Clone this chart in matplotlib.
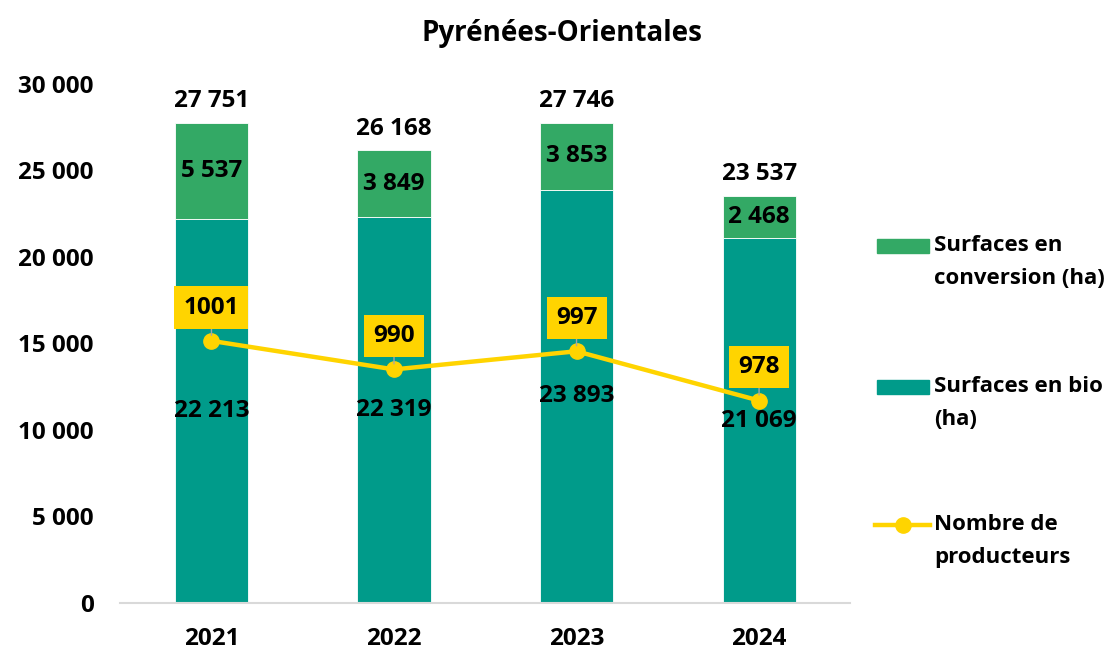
import matplotlib.pyplot as plt
from matplotlib.patches import Rectangle
from matplotlib.lines import Line2D

plt.rcParams['font.family'] = ['Open Sans', 'DejaVu Sans']
plt.rcParams['font.weight'] = 'bold'

annees = ["2021", "2022", "2023", "2024"]
bio = [22213, 22319, 23893, 21069]
conversion = [5537, 3849, 3853, 2468]
totaux = [27751, 26168, 27746, 23537]
producteurs = [1001, 990, 997, 978]

vert_conv = "#33A965"
vert_bio = "#009B8A"
jaune = "#FFD400"


def fmt(v):
    return f"{v:,}".replace(",", " ")


fig = plt.figure(figsize=(11.13, 6.53), dpi=100)
ax = fig.add_axes([0.108, 0.0766, 0.656, 0.7948])
x = range(len(annees))

b_bio = ax.bar(x, bio, width=0.4, color=vert_bio, edgecolor="white", linewidth=0.6)
b_conv = ax.bar(x, conversion, width=0.4, bottom=bio, color=vert_conv, edgecolor="white",
                linewidth=0.6)

fs = 17.5
for i in x:
    ax.text(i, bio[i] / 2, fmt(bio[i]), ha="center", va="center", fontsize=fs, fontweight="bold")
    ax.text(i, bio[i] + conversion[i] / 2, fmt(conversion[i]), ha="center", va="center",
            fontsize=fs, fontweight="bold")
    ax.text(i, totaux[i] + 550, fmt(totaux[i]), ha="center", va="bottom", fontsize=fs,
            fontweight="bold")

ax.set_xlim(-0.5, 3.5)
ax.set_ylim(0, 30000)
ax.set_yticks(range(0, 30001, 5000))
ax.set_yticklabels([fmt(v) for v in range(0, 30001, 5000)], fontsize=fs, fontweight="bold")
ax.set_xticks(list(x))
ax.set_xticklabels(annees, fontsize=fs, fontweight="bold")
ax.tick_params(length=0)
ax.tick_params(axis="x", pad=17)
ax.tick_params(axis="y", pad=19)
for s in ["top", "right", "left"]:
    ax.spines[s].set_visible(False)
ax.spines["bottom"].set_color("#D9D9D9")
ax.spines["bottom"].set_linewidth(1.5)

ax2 = ax.twinx()
ax2.set_ylim(900, 1100)
ax2.axis("off")
l_prod, = ax2.plot(x, producteurs, color=jaune, linewidth=3.2, marker="o", markersize=11)
for i in x:
    ax2.annotate(str(producteurs[i]), xy=(i, producteurs[i]), xytext=(0, 24),
                 textcoords="offset points", ha="center", va="center", fontsize=fs,
                 fontweight="bold",
                 bbox=dict(boxstyle="square,pad=0.38", fc=jaune, ec="none"),
                 arrowprops=dict(arrowstyle="-", color="#A6A6A6", lw=1, shrinkA=0, shrinkB=4))

fig.text(0.505, 0.949, "Pyrénées-Orientales", ha="center", va="center", fontsize=20,
         fontweight="bold")

# légende à droite : symbole aligné sur la première ligne du texte
W, H = 1113, 653
entrees = [
    ("patch", vert_conv, "Surfaces en\nconversion (ha)", 246),
    ("patch", vert_bio, "Surfaces en bio\n(ha)", 387),
    ("line", jaune, "Nombre de\nproducteurs", 525),
]
for kind, col, txt, yp in entrees:
    if kind == "patch":
        fig.patches.append(Rectangle((877 / W, 1 - (yp + 7) / H), 52 / W, 14 / H,
                                     transform=fig.transFigure, color=col))
    else:
        fig.lines.append(Line2D([875 / W, 930 / W], [1 - yp / H] * 2, transform=fig.transFigure,
                                color=col, linewidth=3.2))
        fig.lines.append(Line2D([903 / W], [1 - yp / H], transform=fig.transFigure,
                                color=col, marker="o", markersize=11))
    fig.text(934 / W, 1 - (yp + 16) / H, txt, ha="left", va="center", fontsize=16,
             fontweight="bold", linespacing=1.72)

fig.savefig("out.png", dpi=100)
